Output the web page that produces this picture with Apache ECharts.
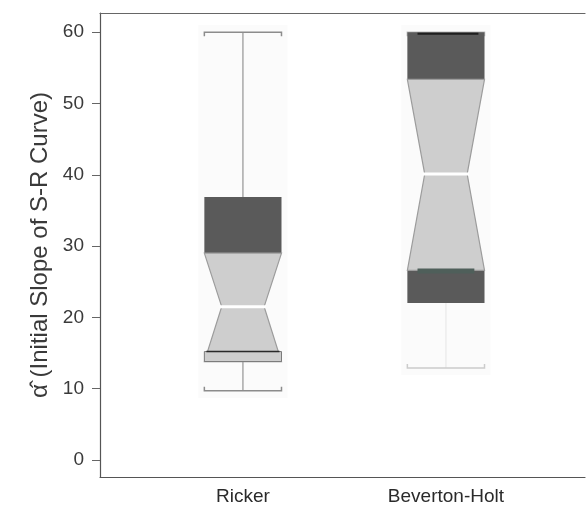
<!DOCTYPE html>
<html>
<head>
<meta charset="utf-8">
<script src="https://cdn.jsdelivr.net/npm/echarts@6/dist/echarts.min.js"></script>
<style>html,body{margin:0;padding:0;background:#fff;}#c{width:587px;height:511px;}</style>
</head>
<body>
<div id="c"></div>
<script>
// ---- data ----
const categories   = ['Ricker', 'Beverton-Holt'];
const whiskerLow   = [9.7, 12.9];
const q1           = [13.8, 22.0];
const notchLow     = [13.8, 26.6];
const median       = [21.5, 40.1];
const notchHigh    = [29.0, 53.4];
const q3           = [36.9, 60.0];
const whiskerHigh  = [60.0, 60.0];
const lowerMark    = [15.2, 26.5];
const upperMark    = [null, 59.8];
const yTicks       = [0, 10, 20, 30, 40, 50, 60];

// ---- styles ----
const BOX_HALF = 0.19;
const NOTCH_RATIO = 0.55;
const DARK = '#5a5a5a';
const LIGHT = '#cecece';
const OUTLINE = '#9c9c9c';
const whiskerColors = ['#a8a8a8', '#ececec'];
const lowerMarkColors = ['#2a2a2a', '#4f5f5a'];
const FONT = 'Liberation Sans, Arial, Helvetica, sans-serif';

const chart = echarts.init(document.getElementById('c'));

const seriesData = categories.map((c, i) => [i + 1, whiskerLow[i], q1[i], notchLow[i], median[i], notchHigh[i], q3[i], whiskerHigh[i], lowerMark[i], upperMark[i]]);

function renderItem(params, api) {
  const i = params.dataIndex;
  const x = api.value(0);
  const p = (xx, yy) => api.coord([xx, yy]);
  const L = x - BOX_HALF, R = x + BOX_HALF;
  const nL = x - BOX_HALF * NOTCH_RATIO, nR = x + BOX_HALF * NOTCH_RATIO;
  const wl = api.value(1), a1 = api.value(2), nl = api.value(3), md = api.value(4),
        nh = api.value(5), a3 = api.value(6), wh = api.value(7), lm = api.value(8), um = api.value(9);
  const ch = [];
  const wc = whiskerColors[i];
  // faint background
  ch.push({type:'polygon', shape:{points:[p(L-0.03,wh+1), p(R+0.03,wh+1), p(R+0.03,wl-1), p(L-0.03,wl-1)]}, style:{fill:'#fbfbfb'}, z2:0});
  // whiskers
  ch.push({type:'line', shape:{x1:p(x,a3)[0], y1:p(x,a3)[1], x2:p(x,wh)[0], y2:p(x,wh)[1]}, style:{stroke:wc, lineWidth:1.5}, z2:1});
  ch.push({type:'line', shape:{x1:p(x,wl)[0], y1:p(x,wl)[1], x2:p(x,a1)[0], y2:p(x,a1)[1]}, style:{stroke:wc, lineWidth:1.5}, z2:1});
  // caps
  const capTop = p(L, wh), capTopR = p(R, wh);
  ch.push({type:'polyline', shape:{points:[[capTop[0], capTop[1]+4], capTop, capTopR, [capTopR[0], capTopR[1]+4]]}, style:{stroke:i===0?'#8c8c8c':'#bbbbbb', lineWidth:1.5, fill:null}, z2:2});
  const capB = p(L, wl), capBR = p(R, wl);
  ch.push({type:'polyline', shape:{points:[[capB[0], capB[1]-4], capB, capBR, [capBR[0], capBR[1]-4]]}, style:{stroke:i===0?'#8c8c8c':'#cccccc', lineWidth:1.5, fill:null}, z2:2});
  // upper dark box
  ch.push({type:'polygon', shape:{points:[p(L,a3), p(R,a3), p(R,nh), p(L,nh)]}, style:{fill:DARK}, z2:3});
  // lower dark box
  if (nl > a1) ch.push({type:'polygon', shape:{points:[p(L,nl), p(R,nl), p(R,a1), p(L,a1)]}, style:{fill:DARK}, z2:3});
  // notch
  ch.push({type:'polygon', shape:{points:[p(L,nh), p(R,nh), p(nR,md), p(R,nl), p(L,nl), p(nL,md)]}, style:{fill:LIGHT, stroke:OUTLINE, lineWidth:1.2}, z2:4});
  // median
  const m1 = p(nL, md), m2 = p(nR, md);
  ch.push({type:'line', shape:{x1:m1[0]-2, y1:m1[1], x2:m2[0]+2, y2:m2[1]}, style:{stroke:'#ffffff', lineWidth:3}, z2:5});
  // marks
  if (lm != null && !isNaN(lm)) {
    const a = p(L + 0.01, lm), b = p(R - 0.01, lm);
    if (i === 0) {
      const c1 = p(L, lm), c2 = p(R, a1);
      ch.push({type:'rect', shape:{x:c1[0], y:c1[1], width:c2[0]-c1[0], height:c2[1]-c1[1]}, style:{fill:LIGHT, stroke:'#7a7a7a', lineWidth:1}, z2:5});
      ch.push({type:'line', shape:{x1:a[0], y1:a[1], x2:b[0], y2:b[1]}, style:{stroke:lowerMarkColors[i], lineWidth:1.5}, z2:6});
    } else {
      const a2 = p(L + 0.05, lm), b2 = p(R - 0.05, lm);
      ch.push({type:'line', shape:{x1:a2[0], y1:a2[1], x2:b2[0], y2:b2[1]}, style:{stroke:lowerMarkColors[i], lineWidth:5}, z2:6});
    }
  }
  if (um != null && !isNaN(um)) {
    const a = p(L + 0.05, um), b = p(R - 0.03, um);
    ch.push({type:'line', shape:{x1:a[0], y1:a[1], x2:b[0], y2:b[1]}, style:{stroke:'#1e1e1e', lineWidth:2}, z2:6});
  }
  return {type:'group', children: ch};
}

const option = {
  animation: false,
  backgroundColor: '#ffffff',
  grid: {left: 100, right: 2, top: 13, bottom: 34},
  xAxis: [{
    type: 'value', min: 0.296, max: 2.685, position: 'bottom',
    splitLine: {show: false},
    axisLine: {show: true, onZero: false, lineStyle: {color: '#555', width: 1.2}},
    axisTick: {show: false},
    axisLabel: {
      customValues: categories.map((c, i) => i + 1),
      formatter: v => categories[Math.round(v) - 1] || '',
      fontFamily: FONT, fontSize: 19, color: '#2a2a2a', margin: 10
    }
  }, {
    type: 'value', min: 0.296, max: 2.685, position: 'top',
    splitLine: {show: false},
    axisLine: {show: true, onZero: false, lineStyle: {color: '#666', width: 1.2}},
    axisTick: {show: false}, axisLabel: {show: false}
  }],
  yAxis: {
    type: 'value', min: -2.4, max: 62.7,
    name: 'α\u0302 (Initial Slope of S-R Curve)',
    nameLocation: 'middle', nameGap: 46, nameRotate: 90,
    nameTextStyle: {fontFamily: FONT, fontSize: 24, color: '#3a3a3a'},
    splitLine: {show: false},
    axisLine: {show: true, onZero: false, lineStyle: {color: '#555', width: 1.2}},
    axisTick: {show: true, customValues: yTicks, length: 8, lineStyle: {color: '#666'}},
    axisLabel: {customValues: yTicks, fontFamily: FONT, fontSize: 19, color: '#3a3a3a', margin: 16}
  },
  series: [{
    type: 'custom',
    renderItem: renderItem,
    data: seriesData,
    encode: {x: 0, y: [1, 7]},
    clip: false
  }]
};
chart.setOption(option);
</script>
</body>
</html>
